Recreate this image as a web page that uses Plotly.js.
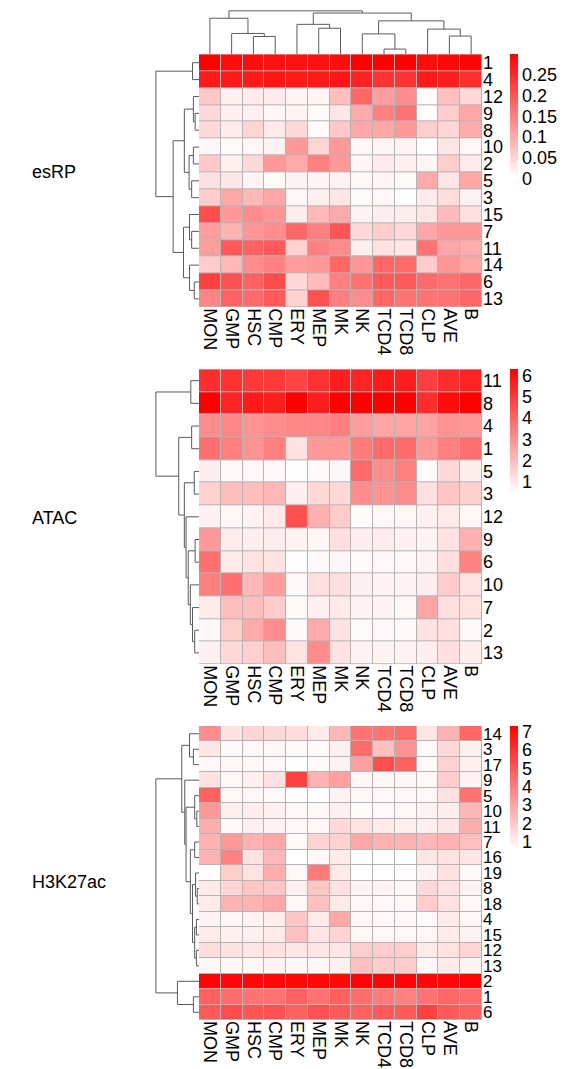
<!DOCTYPE html>
<html><head><meta charset="utf-8">
<script src="https://cdn.plot.ly/plotly-3.0.1.min.js"></script>
<style>html,body{margin:0;padding:0;background:#fff}</style>
</head><body><div id="chart" style="width:562px;height:1069px"></div>
<script>
const cellTypes = ["MON","GMP","HSC","CMP","ERY","MEP","MK","NK","TCD4","TCD8","CLP","AVE","B"];

const esrpRows = ["1","4","12","9","8","10","2","5","3","15","7","11","14","6","13"];
const esrpValues = [
  [0.30,0.285,0.285,0.28,0.28,0.28,0.285,0.30,0.30,0.30,0.285,0.29,0.295],
  [0.27,0.27,0.27,0.275,0.27,0.27,0.275,0.26,0.24,0.24,0.27,0.265,0.245],
  [0.066,0.018,0.024,0.024,0.012,0.012,0.075,0.18,0.114,0.135,0.006,0.075,0.045],
  [0.045,0.018,0.018,0.009,0.012,0.006,0.03,0.10,0.15,0.165,0.003,0.06,0.105],
  [0.045,0.024,0.05,0.024,0.045,0.006,0.066,0.105,0.105,0.12,0.06,0.05,0.10],
  [0.009,0.006,0.009,0.015,0.12,0.05,0.12,0.009,0.012,0.012,0.0,0.03,0.009],
  [0.066,0.018,0.045,0.12,0.10,0.15,0.12,0.012,0.024,0.018,0.012,0.06,0.024],
  [0.036,0.03,0.012,0.006,0.015,0.012,0.015,0.009,0.012,0.006,0.10,0.03,0.105],
  [0.06,0.105,0.084,0.105,0.009,0.018,0.03,0.006,0.009,0.0,0.024,0.04,0.015],
  [0.21,0.12,0.135,0.125,0.02,0.084,0.10,0.015,0.02,0.02,0.03,0.08,0.036],
  [0.115,0.09,0.125,0.135,0.18,0.15,0.20,0.045,0.06,0.045,0.105,0.12,0.12],
  [0.115,0.195,0.185,0.195,0.054,0.15,0.135,0.02,0.036,0.03,0.165,0.105,0.096],
  [0.06,0.084,0.135,0.15,0.115,0.12,0.18,0.125,0.18,0.175,0.06,0.125,0.105],
  [0.225,0.205,0.185,0.21,0.045,0.08,0.15,0.165,0.195,0.195,0.175,0.165,0.18],
  [0.145,0.185,0.175,0.195,0.054,0.205,0.15,0.135,0.18,0.165,0.165,0.165,0.18]
];

const atacRows = ["11","8","4","1","5","3","12","9","6","10","7","2","13"];
const atacValues = [
  [5.25,5.15,5.0,5.0,4.7,5.15,5.6,5.45,5.7,5.6,4.85,5.25,5.45],
  [6.3,5.45,5.7,5.6,6.3,5.6,6.3,6.3,6.3,6.3,5.25,6.0,6.3],
  [3.1,3.2,2.95,3.1,3.2,3.2,3.4,2.7,2.55,2.55,2.55,2.95,2.8],
  [3.7,3.4,2.95,3.4,1.1,2.8,2.8,3.5,3.85,3.85,2.8,3.4,3.7],
  [0.85,0.6,0.65,0.65,0.5,0.6,0.65,3.85,3.1,3.4,0.6,1.35,0.85],
  [1.5,1.95,1.95,2.1,0.8,1.35,1.35,3.1,2.95,3.1,1.2,1.8,1.55],
  [0.8,0.65,0.75,0.95,4.45,2.25,1.65,0.55,0.65,0.65,0.8,0.95,0.65],
  [2.8,0.9,0.85,0.9,0.75,0.65,1.2,0.85,0.9,0.8,0.75,1.1,2.25],
  [3.7,0.95,1.1,1.1,0.5,0.6,0.65,0.6,0.65,0.65,0.75,1.2,3.3],
  [3.4,3.7,2.1,2.7,0.6,1.2,1.2,0.8,0.75,0.75,0.85,1.65,1.1],
  [0.95,1.95,1.95,1.65,0.6,0.8,0.95,0.75,0.75,0.65,2.55,1.2,1.1],
  [0.65,1.65,2.4,3.1,0.6,2.4,1.1,0.6,0.65,0.6,1.1,1.2,0.6],
  [0.8,1.35,1.55,1.95,1.1,3.1,1.1,0.75,0.75,0.75,0.85,1.2,0.85]
];

const h3Rows = ["14","3","17","9","5","10","11","7","16","19","8","18","4","15","12","13","2","1","6"];
const h3Values = [
  [3.6,1.35,1.7,1.55,1.45,1.1,2.45,4.25,4.25,4.45,1.2,2.6,4.6],
  [1.2,0.7,0.75,0.75,0.7,0.7,0.95,4.45,2.25,3.4,0.7,1.55,0.95],
  [0.75,0.75,0.8,0.75,0.55,0.7,0.9,3.1,5.25,4.75,0.7,1.75,0.95],
  [1.35,0.75,0.95,1.35,5.6,2.6,3.1,0.75,0.8,0.8,0.8,1.9,0.9],
  [4.75,0.75,0.75,0.7,0.6,0.55,0.9,0.75,0.75,0.75,0.75,1.35,4.25],
  [3.25,0.95,1.0,0.95,0.8,0.75,0.95,0.7,0.75,0.75,0.9,1.0,2.45],
  [2.7,0.7,0.95,0.9,0.75,0.75,1.55,1.35,1.1,0.95,0.95,1.2,2.7],
  [2.6,3.25,2.6,2.9,0.7,1.75,1.75,2.9,2.6,2.6,2.45,2.6,2.25],
  [2.6,3.9,1.35,2.45,0.55,0.7,1.1,0.6,0.55,0.55,1.2,1.35,1.2],
  [0.6,1.9,1.35,2.7,0.75,4.05,1.1,0.55,0.55,0.6,0.9,1.35,0.7],
  [1.1,1.7,2.1,2.05,0.95,2.05,1.35,0.9,0.9,0.8,1.55,1.35,0.9],
  [1.1,2.6,2.6,2.9,0.75,2.25,1.1,0.8,0.75,0.75,1.9,1.35,0.8],
  [0.9,0.75,0.9,1.0,2.05,1.1,2.9,0.8,0.75,0.75,0.7,1.1,0.8],
  [1.1,0.95,0.95,1.1,2.25,1.2,1.7,0.8,0.8,0.8,0.8,1.1,0.9],
  [1.45,1.35,1.2,1.35,1.2,1.2,1.2,1.9,1.9,1.9,1.1,1.35,1.7],
  [0.8,0.8,0.8,0.9,0.75,0.8,0.95,2.25,1.9,1.9,0.75,1.1,0.9],
  [7.2,7.1,7.1,7.1,7.1,7.1,7.1,7.2,7.2,7.2,7.1,7.1,7.2],
  [4.75,4.4,4.25,4.25,4.75,4.25,4.75,4.4,4.05,3.9,4.25,4.6,4.45],
  [4.95,5.3,5.05,5.15,4.75,5.15,4.95,4.75,4.95,4.95,5.6,4.95,4.75]
];

// hclust-style merges: negative = leaf -(index+1), positive = earlier merge (1-based); third = height
const colMerges = [[-3,-4,0.41],[-2,1,0.48],[-1,2,0.83],[-6,-7,0.6],[-5,4,0.69],[-9,-10,0.12],[-8,6,0.47],[-12,-13,0.42],[-11,8,0.58],[7,9,0.77],[5,10,0.95],[3,11,1.0]];
const esrpRowMerges = [[-1,-2,0.15],[-4,-5,0.09],[-3,2,0.13],[-6,-7,0.13],[-8,-9,0.17],[4,5,0.23],[3,6,0.34],[-11,-12,0.17],[-10,8,0.22],[-14,-15,0.11],[-13,10,0.22],[9,11,0.36],[7,12,0.6],[1,13,1.0]];
const atacRowMerges = [[-1,-2,0.19],[-3,-4,0.17],[-5,-6,0.11],[-8,-9,0.09],[-12,-13,0.1],[-11,5,0.15],[-10,6,0.2],[4,7,0.25],[-7,8,0.3],[3,9,0.34],[2,10,0.47],[1,11,1.0]];
const h3RowMerges = [[-2,-3,0.13],[-1,1,0.22],[-6,-7,0.05],[-5,3,0.1],[-8,-9,0.1],[-11,-12,0.04],[-10,6,0.08],[-13,-14,0.06],[-15,-16,0.06],[8,9,0.1],[7,10,0.15],[5,11,0.2],[4,12,0.3],[-4,13,0.33],[2,14,0.4],[-18,-19,0.13],[-17,16,0.5],[15,17,1.0]];

const W = 562, H = 1069;
const fx = p => p / W, fy = p => 1 - p / H;
const FONT = "Liberation Sans, Arial, sans-serif";

function dendro(merges) {
  const pos = [], ht = [];
  const P = r => r < 0 ? -r - 1 : pos[r - 1];
  const Hh = r => r < 0 ? 0 : ht[r - 1];
  const a = [], b = [];
  merges.forEach(([l, r, h]) => {
    const pl = P(l), pr = P(r), hl = Hh(l), hr = Hh(r);
    a.push(pl, pl, pr, pr, null);
    b.push(hl, h, h, hr, null);
    pos.push((pl + pr) / 2); ht.push(h);
  });
  return {pos: a, h: b};
}

const panels = [
  {title: "esRP", rows: esrpRows, z: esrpValues, merges: esrpRowMerges, top: 54.3, bottom: 307.3, zmin: 0, zmax: 0.30,
   tv: [0, 0.05, 0.1, 0.15, 0.2, 0.25], tt: ["0", "0.05", "0.1", "0.15", "0.2", "0.25"], ty: 172, cbTop: 54.3, rowFont: 18},
  {title: "ATAC", rows: atacRows, z: atacValues, merges: atacRowMerges, top: 369.3, bottom: 664.3, zmin: 0.47, zmax: 6.28,
   tv: [1, 2, 3, 4, 5, 6], tt: ["1", "2", "3", "4", "5", "6"], ty: 518, cbTop: 369.3, rowFont: 18},
  {title: "H3K27ac", rows: h3Rows, z: h3Values, merges: h3RowMerges, top: 726, bottom: 1020, zmin: 0.55, zmax: 7.31,
   tv: [1, 2, 3, 4, 5, 6, 7], tt: ["1", "2", "3", "4", "5", "6", "7"], ty: 882, cbTop: 726, rowFont: 17}
];

const traces = [];
const layout = {
  width: W, height: H, margin: {l: 0, r: 0, t: 0, b: 0},
  paper_bgcolor: "#fff", plot_bgcolor: "rgba(0,0,0,0)", showlegend: false,
  font: {family: FONT, size: 18, color: "#000"}, annotations: []
};
const hmX = [fx(199), fx(482)];
const colIdx = cellTypes.map((_, i) => i);
let ax = 1;
const hidden = {visible: false, showgrid: false, zeroline: false, fixedrange: true};

panels.forEach((p, k) => {
  const n = p.rows.length;
  const rowIdx = p.rows.map((_, i) => i);
  const yDom = [fy(p.bottom), fy(p.top)];
  const hx = ax, hy = ax;
  layout["xaxis" + hx] = {domain: hmX, anchor: "y" + hy, range: [-0.5, cellTypes.length - 0.5],
    tickvals: colIdx, ticktext: cellTypes, tickangle: 90, ticks: "", showgrid: false, zeroline: false,
    showline: false, tickfont: {size: 18, family: FONT, color: "#000"}, fixedrange: true};
  layout["yaxis" + hy] = {domain: yDom, anchor: "x" + hx, side: "right", range: [n - 0.5, -0.5],
    tickvals: rowIdx, ticktext: p.rows, ticks: "", showgrid: false, zeroline: false, showline: false,
    tickfont: {size: p.rowFont, family: FONT, color: "#000"}, fixedrange: true};
  traces.push({type: "heatmap", x: colIdx, y: rowIdx, z: p.z.map(r => r.map(() => 1)),
    colorscale: [[0, "#b4b4b4"], [1, "#b4b4b4"]], showscale: false, hoverinfo: "skip",
    xaxis: "x" + hx, yaxis: "y" + hy});
  traces.push({type: "heatmap", x: colIdx, y: rowIdx, z: p.z, xgap: 1, ygap: 1,
    zmin: p.zmin, zmax: p.zmax, colorscale: [[0, "#ffffff"], [1, "#ff0000"]],
    xaxis: "x" + hx, yaxis: "y" + hy,
    colorbar: {x: fx(510), xanchor: "left", y: fy(p.cbTop), yanchor: "top", len: 124, lenmode: "pixels",
      thickness: 8, thicknessmode: "pixels", xpad: 0, ypad: 0, outlinewidth: 0, ticks: "",
      tickvals: p.tv, ticktext: p.tt, tickfont: {size: 18, family: FONT, color: "#000"}}});
  ax++;
  const d = dendro(p.merges);
  layout["xaxis" + ax] = Object.assign({domain: [fx(155), fx(199)], anchor: "y" + ax, range: [1.02, 0]}, hidden);
  layout["yaxis" + ax] = Object.assign({domain: yDom, anchor: "x" + ax, range: [n - 0.5, -0.5]}, hidden);
  traces.push({type: "scatter", mode: "lines", x: d.h, y: d.pos, line: {color: "#5a5a5a", width: 1},
    hoverinfo: "skip", xaxis: "x" + ax, yaxis: "y" + ax});
  ax++;
  if (k === 0) {
    const c = dendro(colMerges);
    layout["xaxis" + ax] = Object.assign({domain: hmX, anchor: "y" + ax, range: [-0.5, cellTypes.length - 0.5]}, hidden);
    layout["yaxis" + ax] = Object.assign({domain: [fy(p.top), fy(10)], anchor: "x" + ax, range: [0, 1.02]}, hidden);
    traces.push({type: "scatter", mode: "lines", x: c.pos, y: c.h, line: {color: "#5a5a5a", width: 1},
      hoverinfo: "skip", xaxis: "x" + ax, yaxis: "y" + ax});
    ax++;
  }
  layout.annotations.push({text: p.title, xref: "paper", yref: "paper", x: fx(30), y: fy(p.ty),
    xanchor: "left", yanchor: "middle", showarrow: false, font: {size: 18, family: FONT, color: "#000"}});
});

Plotly.newPlot("chart", traces, layout, {staticPlot: true, displayModeBar: false});
</script>
</body></html>
